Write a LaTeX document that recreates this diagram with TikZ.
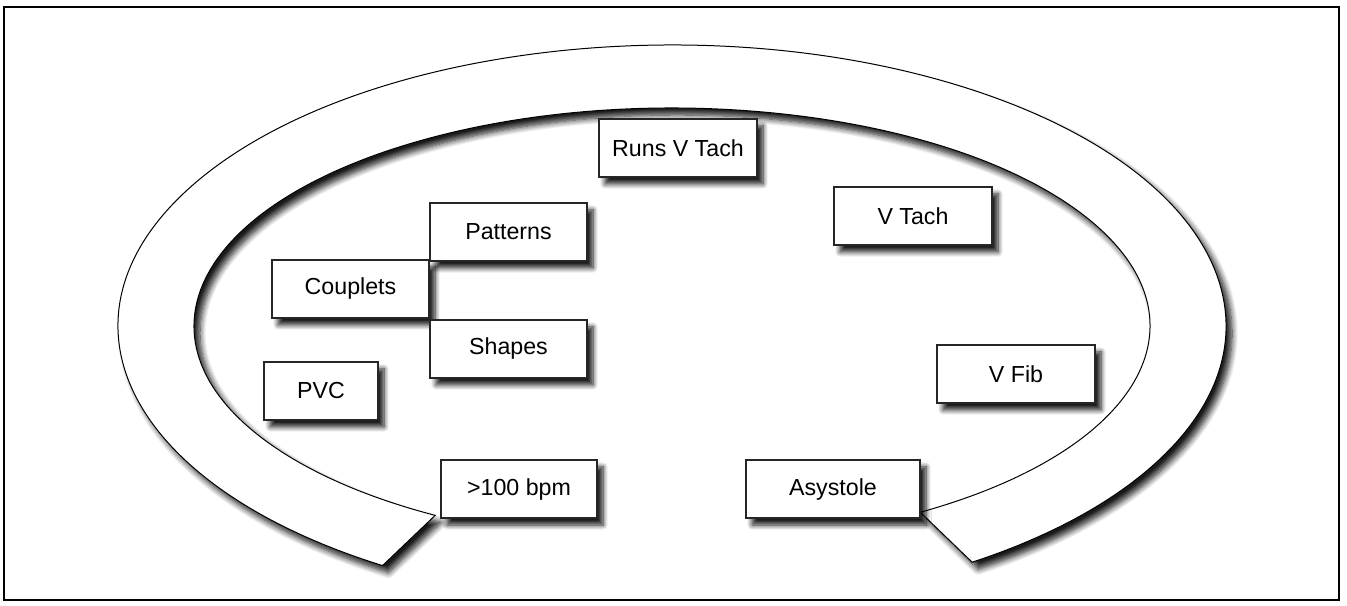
\documentclass[tikz,border=0pt]{standalone}
\usepackage{fontspec}
\setmainfont{Liberation Sans}
\usetikzlibrary{shadows.blur}
\tikzset{
  box/.style={draw=black!85,line width=0.75pt,fill=white,minimum height=29pt,
    inner sep=2pt,font=\fontsize{11.6}{13}\selectfont,
    blur shadow={shadow xshift=3pt,shadow yshift=-3.5pt,shadow blur radius=2.5pt,
      shadow blur steps=8,shadow opacity=90}},
  band/.style={draw=black,line width=0.5pt,fill=white,
    blur shadow={shadow xshift=3pt,shadow yshift=-3.5pt,shadow blur radius=3pt,
      shadow blur steps=8,shadow opacity=90}}
}

\begin{document}
\begin{tikzpicture}[x=0.5pt,y=0.5pt]
  \useasboundingbox (0,0) rectangle (1347,605);
  \draw[line width=0.75pt] (4,5) rectangle (1339,598);
  % open ring
  \coordinate (c) at (672,279);
  \path (c) ++(238.5:277pt and 140.5pt) coordinate (outl);
  \path (c) ++(-58.7:239pt and 109pt) coordinate (inr);
  \draw[band] (outl) arc[start angle=238.5,end angle=-57.2,x radius=277pt,y radius=140.5pt]
    -- (inr) arc[start angle=-58.7,end angle=240.3,x radius=239pt,y radius=109pt] -- cycle;
  % boxes
  \node[box,minimum width=79pt] (runs) at (678,457) {Runs V Tach};
  \node[box,minimum width=78.5pt] (patterns) at (508.5,373) {Patterns};
  \node[box,minimum width=78.5pt] (couplets) at (350.5,316) {Couplets};
  \node[box,minimum width=78.5pt] (shapes) at (508.5,256) {Shapes};
  \node[box,minimum width=57pt] (pvc) at (321,214) {PVC};
  \node[box,minimum width=78pt] (rate) at (519,116) {>100 bpm};
  \node[box,minimum width=87pt] (asystole) at (833,116) {Asystole};
  \node[box,minimum width=79pt] (vtach) at (913,389) {V Tach};
  \node[box,minimum width=79pt] (vfib) at (1016,231) {V Fib};
\end{tikzpicture}
\end{document}
